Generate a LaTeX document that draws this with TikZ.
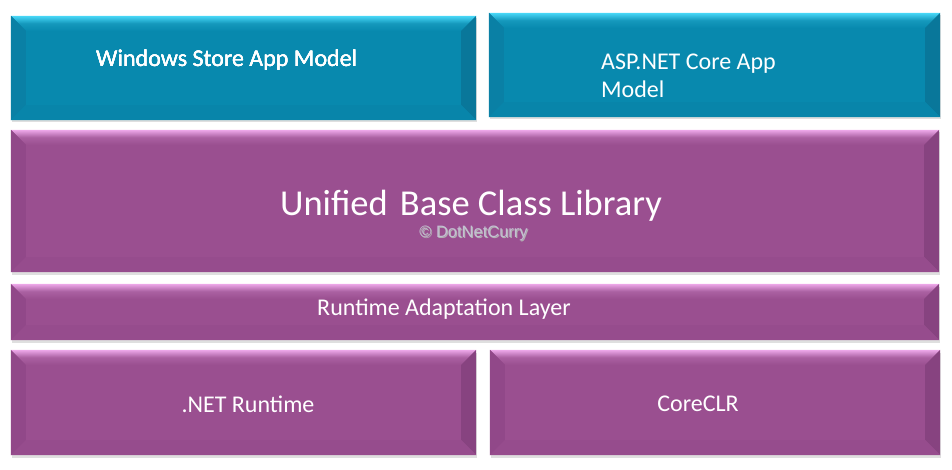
\documentclass[tikz,border=0pt]{standalone}
\usepackage{fontspec}
\setmainfont{Carlito}
\newfontfamily\markfont{Liberation Sans}
\usetikzlibrary{shadows}
\definecolor{blueface}{HTML}{0889AE}
\definecolor{bluelight}{HTML}{48D8F8}
\definecolor{blueside}{HTML}{0A80A5}
\definecolor{bluedark}{HTML}{0885AA}
\definecolor{purpface}{HTML}{9A4F90}
\definecolor{purplight}{HTML}{EEA8EA}
\definecolor{purpside}{HTML}{914889}
\definecolor{purpdark}{HTML}{964C8D}
\definecolor{markgray}{HTML}{C4C0D2}
\tikzset{
  layer/.style={inner sep=0pt, drop shadow={opacity=.25, shadow xshift=1pt, shadow yshift=-2.5pt}},
  bluelayer/.style={layer, fill=blueface},
  purplayer/.style={layer, fill=purpface},
  txt/.style={text=white, inner sep=0pt},
}
% bevelled rim of a layer: #1 node, #2 light, #3 face, #4 side, #5 dark
\newcommand{\bevelrim}[5]{
  \shade[top color=#2, bottom color=#3, middle color=#3!80!#2] (#1.north west) -- (#1.north east)
    -- ([xshift=-15pt,yshift=-15pt]#1.north east) -- ([xshift=15pt,yshift=-15pt]#1.north west) -- cycle;
  \fill[#4] (#1.north west) -- ([xshift=15pt,yshift=-15pt]#1.north west)
    -- ([xshift=15pt,yshift=15pt]#1.south west) -- (#1.south west) -- cycle;
  \fill[#4!93!black] (#1.north east) -- ([xshift=-15pt,yshift=-15pt]#1.north east)
    -- ([xshift=-15pt,yshift=15pt]#1.south east) -- (#1.south east) -- cycle;
  \fill[#5] (#1.south west) -- ([xshift=15pt,yshift=15pt]#1.south west)
    -- ([xshift=-15pt,yshift=15pt]#1.south east) -- (#1.south east) -- cycle;
}
\begin{document}
\begin{tikzpicture}[x=1pt, y=-1pt]
  \useasboundingbox (0,0) rectangle (952,470);
  % layers
  \node[bluelayer, minimum width=465pt, minimum height=104pt] (store) at (243.5,68) {};
  \node[bluelayer, minimum width=451pt, minimum height=104pt] (asp) at (714.5,65) {};
  \node[purplayer, minimum width=928pt, minimum height=142pt] (bcl) at (475,201) {};
  \node[purplayer, minimum width=928pt, minimum height=56pt] (ral) at (475,312) {};
  \node[purplayer, minimum width=465pt, minimum height=105pt] (netrt) at (243.5,402.5) {};
  \node[purplayer, minimum width=450pt, minimum height=105pt] (core) at (715,402.5) {};
  % rims
  \bevelrim{store}{bluelight}{blueface}{blueside}{bluedark}
  \bevelrim{asp}{bluelight}{blueface}{blueside}{bluedark}
  \foreach \n in {bcl, ral, netrt, core}
    \bevelrim{\n}{purplight}{purpface}{purpside}{purpdark}
  % labels
  \node[txt, anchor=west, font=\fontsize{24}{28}\selectfont] (storetxt) at (96,60) {Windows Store App Model};
  \node[txt, anchor=west, align=left, font=\fontsize{24}{28}\selectfont] (asptxt) at (601,76) {ASP.NET Core App\\Model};
  \node[txt, font=\fontsize{36.5}{40}\selectfont] (bcltxt) at (471,206) {Unified\hspace{4pt} Base Class Library};
  \node[text=gray!60, inner sep=0pt, font=\markfont\fontsize{16.5}{18}\selectfont] (marksh) at (474.5,234) {\textcopyright\ DotNetCurry};
  \node[text=markgray, inner sep=0pt, font=\markfont\fontsize{16.5}{18}\selectfont] (mark) at (473.5,233) {\textcopyright\ DotNetCurry};
  \node[txt, font=\fontsize{24}{28}\selectfont] (raltxt) at (444,309) {Runtime Adaptation Layer};
  \node[txt, font=\fontsize{24}{28}\selectfont] (netrttxt) at (248,404) {.NET Runtime};
  \node[txt, font=\fontsize{24}{28}\selectfont] (coretxt) at (698,404) {CoreCLR};
\end{tikzpicture}
\end{document}
